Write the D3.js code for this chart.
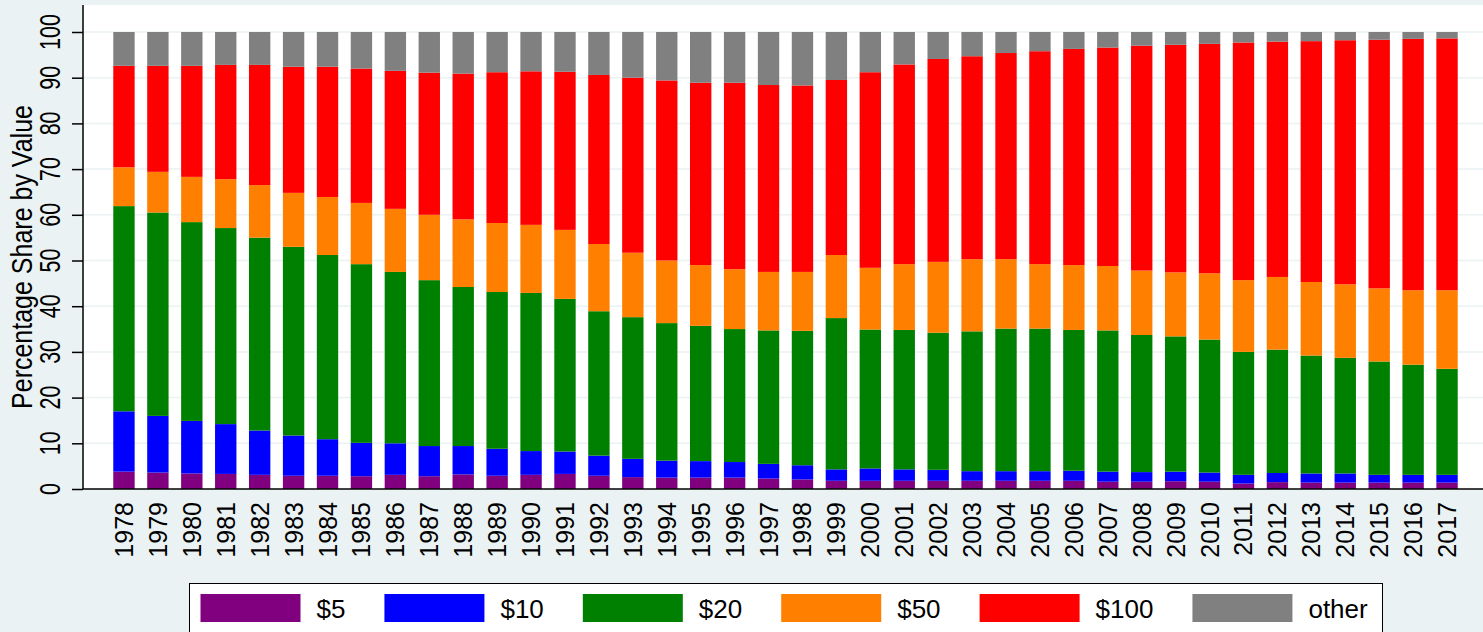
<!DOCTYPE html>
<html>
<head>
<meta charset="utf-8">
<script src="https://cdn.jsdelivr.net/npm/d3@7"></script>
<style>
  body { margin: 0; background: #EAF2F3; }
  text { font-family: "Liberation Sans", Arial, sans-serif; fill: #000; }
</style>
</head>
<body>
<div id="chart"></div>
<script>
// years on the x axis
var years = [1978,1979,1980,1981,1982,1983,1984,1985,1986,1987,1988,1989,1990,1991,1992,1993,1994,1995,1996,1997,
             1998,1999,2000,2001,2002,2003,2004,2005,2006,2007,2008,2009,2010,2011,2012,2013,2014,2015,2016,2017];

// share by value (percent) for each denomination
var d5   = [3.8,3.6,3.4,3.3,3.1,2.9,2.9,2.8,3.1,2.8,3.2,2.9,3.1,3.3,2.9,2.6,2.5,2.5,2.5,2.3,
            2.1,1.8,1.8,1.8,1.8,1.8,1.8,1.8,1.8,1.6,1.6,1.7,1.6,1.2,1.5,1.4,1.4,1.4,1.4,1.4];
var d10  = [13.2,12.4,11.5,10.9,9.7,8.8,8.0,7.3,6.9,6.6,6.2,5.9,5.2,4.9,4.4,4.0,3.7,3.6,3.4,3.2,
            3.1,2.5,2.7,2.5,2.4,2.1,2.1,2.1,2.2,2.2,2.1,2.1,2.0,1.9,2.0,2.0,2.0,1.7,1.7,1.7];
var d20  = [44.9,44.5,43.5,42.9,42.2,41.3,40.3,39.1,37.5,36.3,34.8,34.3,34.6,33.4,31.6,31.0,30.1,29.6,29.1,29.2,
            29.4,33.1,30.4,30.5,30.0,30.6,31.2,31.2,30.8,30.9,30.0,29.6,29.1,26.9,27.0,25.8,25.3,24.8,24.1,23.2];
var d50  = [8.5,8.9,9.9,10.7,11.5,11.8,12.7,13.4,13.8,14.3,14.8,15.1,14.9,15.1,14.7,14.1,13.7,13.3,13.1,12.8,
            12.9,13.8,13.5,14.4,15.5,15.8,15.2,14.1,14.2,14.1,14.1,14.0,14.5,15.7,15.9,16.1,16.1,16.0,16.3,17.2];
var d100 = [22.2,23.2,24.3,25.0,26.3,27.6,28.5,29.4,30.2,31.1,31.9,33.0,33.6,34.6,37.0,38.3,39.4,39.9,40.8,40.9,
            40.8,38.3,42.8,43.7,44.4,44.4,45.1,46.6,47.3,47.8,49.2,49.8,50.2,52.0,51.5,52.7,53.4,54.4,55.0,55.1];
var other = [7.4,7.4,7.4,7.2,7.2,7.6,7.6,8.0,8.5,8.9,9.1,8.8,8.6,8.7,9.4,10.0,10.6,11.1,11.1,11.6,
             11.7,10.5,8.8,7.1,5.9,5.3,4.6,4.2,3.7,3.4,3.0,2.8,2.6,2.3,2.1,2.0,1.8,1.7,1.5,1.4];

var keys   = ["$5", "$10", "$20", "$50", "$100", "other"];
var series = [d5, d10, d20, d50, d100, other];
var colors = ["#800080", "#0000FF", "#008000", "#FF8000", "#FF0000", "#808080"];
var yTicks = [0,10,20,30,40,50,60,70,80,90,100];

// build rows for d3.stack
var rows = years.map(function(yr, i) {
  var r = { year: yr };
  keys.forEach(function(k, j) { r[k] = series[j][i]; });
  return r;
});

var W = 1483, H = 632;
var plotLeft = 83, plotRight = 1483, plotTop = 5, plotBottom = 489;

var svg = d3.select("#chart").append("svg")
    .attr("width", W)
    .attr("height", H);

svg.append("rect").attr("width", W).attr("height", H).attr("fill", "#EAF2F3");
svg.append("rect")
    .attr("x", plotLeft).attr("y", plotTop)
    .attr("width", plotRight - plotLeft).attr("height", plotBottom - plotTop)
    .attr("fill", "#fff");

var x = d3.scaleBand()
    .domain(years)
    .range([107, 1464])
    .paddingInner(0.37)
    .paddingOuter(0.185);

var y = d3.scaleLinear()
    .domain([0, 100])
    .range([489, 32]);

// grid lines
svg.append("g").selectAll("line")
  .data(yTicks.slice(1))
  .enter().append("line")
    .attr("x1", plotLeft).attr("x2", plotRight)
    .attr("y1", function(d) { return y(d); })
    .attr("y2", function(d) { return y(d); })
    .attr("stroke", "#EAF2F3")
    .attr("stroke-width", 1.5);

// stacked bars
var stacked = d3.stack().keys(keys)(rows);
svg.append("g").selectAll("g")
  .data(stacked)
  .enter().append("g")
    .attr("fill", function(d, i) { return colors[i]; })
  .selectAll("rect")
  .data(function(d) { return d; })
  .enter().append("rect")
    .attr("x", function(d) { return x(d.data.year); })
    .attr("width", x.bandwidth())
    .attr("y", function(d) { return y(d[1]); })
    .attr("height", function(d) { return y(d[0]) - y(d[1]); });

// y axis
var yAxis = svg.append("g")
    .attr("transform", "translate(" + plotLeft + ",0)")
    .call(d3.axisLeft(y).tickValues(yTicks).tickSize(11).tickFormat(""));
yAxis.select(".domain").remove();
yAxis.selectAll("line").attr("stroke", "#000").attr("stroke-width", 1.5);
svg.append("line")
    .attr("x1", plotLeft).attr("x2", plotLeft)
    .attr("y1", plotTop).attr("y2", plotBottom)
    .attr("stroke", "#000").attr("stroke-width", 1.5);

svg.append("g").selectAll("text")
  .data(yTicks)
  .enter().append("text")
    .attr("transform", function(d) { return "translate(60," + y(d) + ") rotate(-90) scale(1,1.33)"; })
    .attr("text-anchor", "middle")
    .style("font-size", "21.5px")
    .text(function(d) { return d; });

svg.append("text")
    .attr("transform", "translate(32,257) rotate(-90) scale(1,1.2)")
    .attr("text-anchor", "middle")
    .style("font-size", "25px")
    .text("Percentage Share by Value");

// x axis
svg.append("line")
    .attr("x1", plotLeft).attr("x2", plotRight)
    .attr("y1", plotBottom).attr("y2", plotBottom)
    .attr("stroke", "#000").attr("stroke-width", 1.5);

svg.append("g").selectAll("text")
  .data(years)
  .enter().append("text")
    .attr("transform", function(d) {
      return "translate(" + (x(d) + x.bandwidth() / 2) + ",502) rotate(-90)";
    })
    .attr("text-anchor", "end")
    .attr("dy", "0.36em")
    .style("font-size", "25px")
    .text(function(d) { return d; });

// legend
svg.append("rect")
    .attr("x", 189.5).attr("y", 583.5)
    .attr("width", 1193).attr("height", 70)
    .attr("fill", "#fff")
    .attr("stroke", "#000")
    .attr("stroke-width", 1);

var lx = 200.5;
keys.forEach(function(k, i) {
  svg.append("rect")
      .attr("x", lx).attr("y", 594)
      .attr("width", 100).attr("height", 28)
      .attr("fill", colors[i]);
  var t = svg.append("text")
      .attr("x", lx + 116).attr("y", 618)
      .style("font-size", "26px")
      .text(k);
  lx = lx + 116 + t.node().getComputedTextLength() + 39;
});
</script>
</body>
</html>
